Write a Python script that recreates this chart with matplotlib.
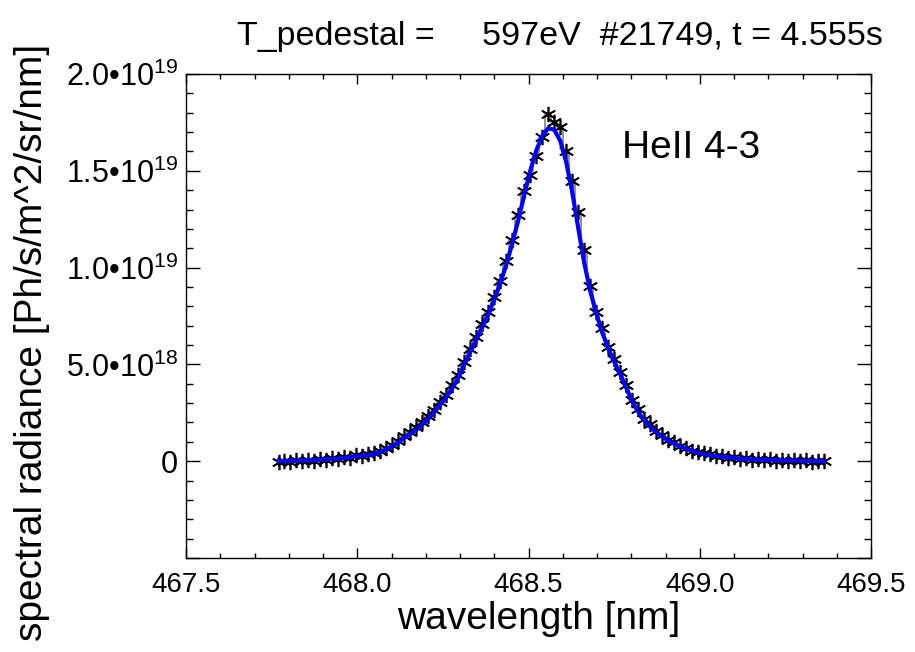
import numpy as np
import matplotlib
matplotlib.use("Agg")
import matplotlib.pyplot as plt
from matplotlib.ticker import MultipleLocator

plt.rcParams["font.family"] = ["Liberation Sans", "DejaVu Sans"]
plt.rcParams["mathtext.fontset"] = "custom"
plt.rcParams["mathtext.rm"] = "Liberation Sans"

# wavelength grid [nm]
wl = [467.7700, 467.7875, 467.8050, 467.8225, 467.8400, 467.8575, 467.8750, 467.8925,
      467.9100, 467.9275, 467.9450, 467.9625, 467.9800, 467.9975, 468.0150, 468.0325,
      468.0500, 468.0675, 468.0850, 468.1025, 468.1200, 468.1375, 468.1550, 468.1725,
      468.1900, 468.2075, 468.2250, 468.2425, 468.2600, 468.2775, 468.2950, 468.3125,
      468.3300, 468.3475, 468.3650, 468.3825, 468.4000, 468.4175, 468.4350, 468.4525,
      468.4700, 468.4875, 468.5050, 468.5225, 468.5400, 468.5575, 468.5750, 468.5925,
      468.6100, 468.6275, 468.6450, 468.6625, 468.6800, 468.6975, 468.7150, 468.7325,
      468.7500, 468.7675, 468.7850, 468.8025, 468.8200, 468.8375, 468.8550, 468.8725,
      468.8900, 468.9075, 468.9250, 468.9425, 468.9600, 468.9775, 468.9950, 469.0125,
      469.0300, 469.0475, 469.0650, 469.0825, 469.1000, 469.1175, 469.1350, 469.1525,
      469.1700, 469.1875, 469.2050, 469.2225, 469.2400, 469.2575, 469.2750, 469.2925,
      469.3100, 469.3275, 469.3450, 469.3625]

# measured spectral radiance [1e19 Ph/s/m^2/sr/nm]
meas = [-0.004, 0.003, -0.003, 0.005, 0.000, 0.007, 0.002, 0.010,
        0.006, 0.015, 0.011, 0.020, 0.016, 0.030, 0.027, 0.038,
        0.041, 0.055, 0.066, 0.085, 0.104, 0.131, 0.150, 0.175,
        0.200, 0.232, 0.265, 0.305, 0.342, 0.392, 0.445, 0.512,
        0.578, 0.640, 0.708, 0.772, 0.850, 0.930, 1.035, 1.140,
        1.270, 1.395, 1.480, 1.575, 1.675, 1.795, 1.750, 1.725,
        1.600, 1.445, 1.285, 1.090, 0.905, 0.770, 0.690, 0.590,
        0.530, 0.460, 0.395, 0.318, 0.268, 0.220, 0.190, 0.158,
        0.135, 0.110, 0.098, 0.080, 0.070, 0.055, 0.050, 0.040,
        0.036, 0.026, 0.027, 0.018, 0.020, 0.012, 0.014, 0.008,
        0.012, 0.005, 0.009, 0.003, 0.007, 0.001, 0.006, 0.000,
        0.004, -0.002, 0.003, -0.001]

# fitted profile [1e19 Ph/s/m^2/sr/nm]
fit = [0.000, 0.001, 0.002, 0.003, 0.004, 0.005, 0.006, 0.008,
       0.010, 0.012, 0.014, 0.017, 0.020, 0.025, 0.028, 0.031,
       0.037, 0.047, 0.060, 0.076, 0.097, 0.121, 0.141, 0.163,
       0.189, 0.219, 0.254, 0.292, 0.331, 0.377, 0.430, 0.500,
       0.565, 0.628, 0.692, 0.760, 0.835, 0.920, 1.015, 1.125,
       1.245, 1.375, 1.500, 1.605, 1.680, 1.720, 1.712, 1.655,
       1.545, 1.390, 1.205, 1.025, 0.880, 0.765, 0.665, 0.585,
       0.515, 0.450, 0.380, 0.310, 0.255, 0.212, 0.178, 0.150,
       0.127, 0.107, 0.090, 0.076, 0.065, 0.054, 0.044, 0.036,
       0.030, 0.026, 0.022, 0.019, 0.016, 0.013, 0.011, 0.010,
       0.008, 0.007, 0.006, 0.005, 0.004, 0.004, 0.003, 0.002,
       0.002, 0.001, 0.001, 0.000]

yticks = [-0.5e19, 0.0, 0.5e19, 1.0e19, 1.5e19, 2.0e19]
ylabels = ["", "0", r"5.0•10$^{18}$", r"1.0•10$^{19}$", r"1.5•10$^{19}$", r"2.0•10$^{19}$"]
xticks = [467.5, 468.0, 468.5, 469.0, 469.5]

scale = 1e19
wl = np.array(wl)
meas = np.array(meas) * scale
fit = np.array(fit) * scale

fig = plt.figure(figsize=(9.15, 6.52), dpi=100)
ax = fig.add_axes([0.2033, 0.1442, 0.7487, 0.7423])

ax.plot(wl, meas, color="0.5", lw=1.2, drawstyle="steps-mid", zorder=2)
ax.plot(wl, meas, ls="none", marker=(6, 2, 0), ms=11, mew=1.2, color="black", zorder=3)
ax.plot(wl, fit, color="#0000ff", lw=3.0, zorder=4)

ax.set_xlim(467.5, 469.5)
ax.set_ylim(-0.5e19, 2.0e19)
ax.set_xticks(xticks)
ax.set_xticklabels([f"{v:.1f}" for v in xticks])
ax.set_yticks(yticks)
ax.set_yticklabels(ylabels)
ax.xaxis.set_minor_locator(MultipleLocator(0.1))
ax.yaxis.set_minor_locator(MultipleLocator(0.1e19))

ax.tick_params(axis="both", which="both", direction="in", top=True, right=True,
               width=1.0, color="black")
ax.tick_params(axis="x", which="major", length=7, pad=10, labelsize=20)
ax.tick_params(axis="x", which="minor", length=3.5)
ax.tick_params(axis="y", which="major", length=10, pad=6, labelsize=22)
ax.tick_params(axis="y", which="minor", length=5)
for s in ax.spines.values():
    s.set_linewidth(1.0)

ax.set_xlabel("wavelength [nm]", fontsize=28)
ax.xaxis.set_label_coords(0.515, -0.088, transform=ax.transAxes)
ax.set_ylabel("spectral radiance [Ph/s/m^2/sr/nm]", fontsize=28)
ax.yaxis.set_label_coords(-0.198, 0.446, transform=ax.transAxes)
fig.text(560 / 915, 1 - 45 / 652, "T_pedestal =     597eV  #21749, t = 4.555s",
         fontsize=24.5, ha="center", va="baseline")
ax.text(468.773, 1.62e19, "HeII 4-3", fontsize=28, va="center", ha="left")

fig.savefig("out.png", dpi=100)
